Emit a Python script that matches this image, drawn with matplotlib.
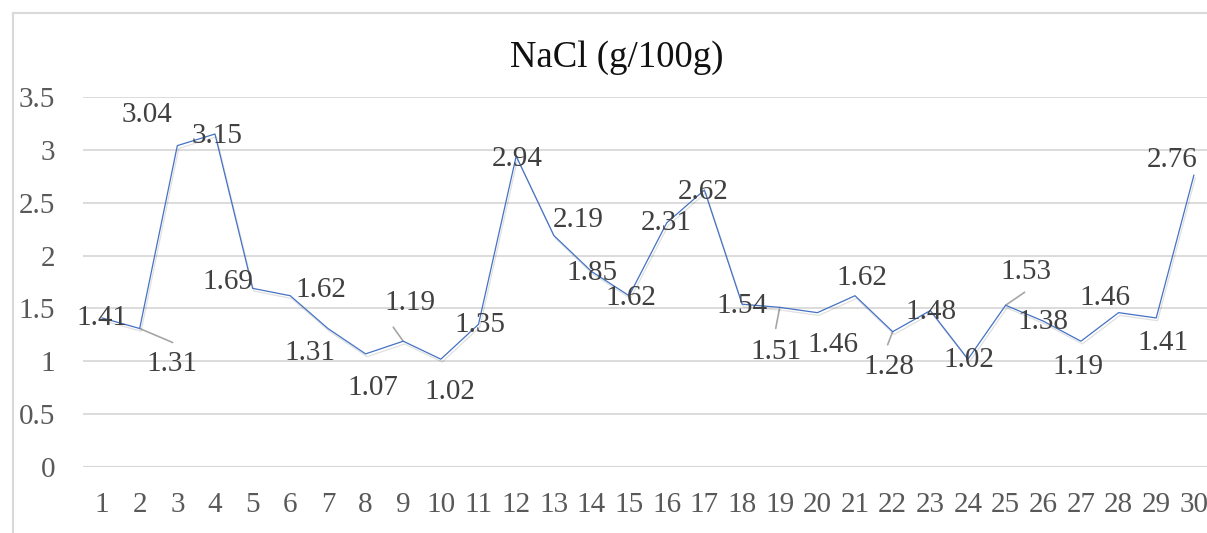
import matplotlib
matplotlib.use("Agg")
import matplotlib.pyplot as plt
import matplotlib.patheffects as pe
from matplotlib.lines import Line2D

# Sample numbers and NaCl content (g/100g)
samples = list(range(1, 31))
nacl = [1.41, 1.31, 3.04, 3.15, 1.69, 1.62, 1.31, 1.07, 1.19, 1.02,
        1.35, 2.94, 2.19, 1.85, 1.62, 2.31, 2.62, 1.54, 1.51, 1.46,
        1.62, 1.28, 1.48, 1.02, 1.53, 1.38, 1.19, 1.46, 1.41, 2.76]
y_ticks = [0, 0.5, 1, 1.5, 2, 2.5, 3, 3.5]
y_tick_labels = ["0", "0.5", "1", "1.5", "2", "2.5", "3", "3.5"]
title = "NaCl (g/100g)"

# Placement of each value label (pixel offset from its point)
label_offsets = [(0, 0), (32, -35), (-30, 31), (2, -2), (-25, 6),
                 (31, 6), (-18, -24), (7, -34), (7, 38), (9, -33),
                 (1, -1), (1, -3), (24, 15), (1, -2), (2, -2),
                 (-1, 0), (-1, -2), (0, -2), (-4, -45), (16, -32),
                 (7, 18), (-4, -35), (1, -1), (1, -1), (20, 33),
                 (0, -1), (-3, -26), (-14, 15), (7, -25), (-22, 15)]
# Leader lines for labels that sit away from their point
leaders = {2: (33, -14), 9: (-10, 14), 19: (-4, -21), 22: (-5, -13), 25: (19, 13)}

serif = ["Liberation Serif", "DejaVu Serif"]
plt.rcParams["font.family"] = serif

W, H, DPI = 1207, 533, 100
fig = plt.figure(figsize=(W / DPI, H / DPI), dpi=DPI)
fig.patch.set_facecolor("white")

left_px, bottom_px = 83.2, 467
step_px = 37.65
top_px = 97
ax = fig.add_axes([left_px / W, (H - bottom_px) / H,
                   30 * step_px / W, (bottom_px - top_px) / H])
ax.set_xlim(0.5, 30.5)
ax.set_ylim(0, 3.5)

for s in ax.spines.values():
    s.set_visible(False)
ax.set_yticks(y_ticks)
ax.set_yticklabels(y_tick_labels)
ax.set_xticks(samples)
ax.set_xticklabels([str(s) for s in samples])
ax.tick_params(axis="both", length=0, labelsize=21, labelcolor="#595959")
ax.tick_params(axis="y", pad=20)
ax.tick_params(axis="x", pad=18)

for yv in y_ticks:
    ax.axhline(yv, color="#d9d9d9", lw=1.6 if yv == 0 else 1.3, zorder=0)

ax.plot(samples, nacl, color="#4472C4", lw=0.9, zorder=3,
        path_effects=[pe.SimpleLineShadow(offset=(1, -2), shadow_color="k", alpha=0.12),
                      pe.Normal()])

for idx, end in leaders.items():
    ax.annotate("", xy=(idx, nacl[idx - 1]), xytext=end, textcoords="offset pixels",
                arrowprops=dict(arrowstyle="-", color="#a6a6a6", lw=1.2,
                                shrinkA=0, shrinkB=0), zorder=2)

for x, v, (dx, dy) in zip(samples, nacl, label_offsets):
    ax.annotate(f"{v:.2f}", xy=(x, v), xytext=(dx, dy), textcoords="offset pixels",
                ha="center", va="center", fontsize=21, color="#404040", zorder=4)

fig.text(617 / W, (H - 67) / H, title, ha="center", va="baseline",
         fontsize=26.5, color="#111111")

# Chart frame
fig.add_artist(Line2D([13 / W, 13 / W], [0, (H - 13) / H], color="#d9d9d9", lw=1.5,
                      transform=fig.transFigure))
fig.add_artist(Line2D([13 / W, 1], [(H - 13) / H, (H - 13) / H], color="#d9d9d9", lw=1.5,
                      transform=fig.transFigure))

fig.savefig("out.png", dpi=DPI)
